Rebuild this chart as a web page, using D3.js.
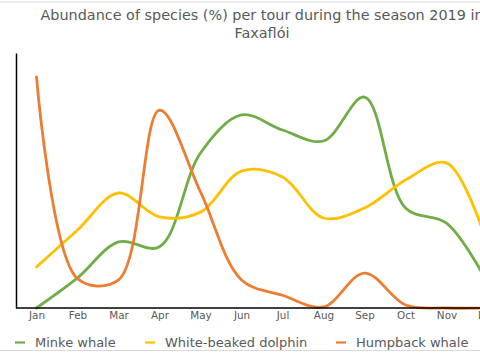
<!DOCTYPE html>
<html><head><meta charset="utf-8">
<script src="https://cdn.jsdelivr.net/npm/d3@7"></script>
<style>html,body{margin:0;padding:0;background:#fff;overflow:hidden}svg{display:block}</style>
</head><body>
<svg id="c" width="480" height="360"></svg>
<script>
const months = ["Jan","Feb","Mar","Apr","May","Jun","Jul","Aug","Sep","Oct","Nov","Dec"];
const minke = [0, 11.8, 25.9, 24, 60.8, 75.7, 69.8, 65.5, 82.7, 39.2, 33.3, 10];
const dolphin = [16.1, 30.6, 45.1, 35.7, 37.6, 53.7, 51.4, 35.3, 39.2, 50.2, 56.9, 25];
const humpback = [90.6, 11.5, 11, 77.6, 45.5, 11, 5, 0.4, 13.7, 1.2, 0, 0];
const seriesNames = ["Minke whale","White-beaked dolphin","Humpback whale"];
const colors = ["#70AD47","#FFC000","#ED7D31"];
const titleLines = ["Abundance of species (%) per tour during the season 2019 in","Faxaflói"];

(function(){
const svg = d3.select("#c");
const font = "'DejaVu Sans', sans-serif";
const pL = 16, pR = 508, pT = 53, pB = 308;

svg.append("line").attr("x1",0).attr("x2",480).attr("y1",2).attr("y2",2).attr("stroke","#d9d9d9").attr("stroke-width",1);
svg.append("line").attr("x1",0).attr("x2",480).attr("y1",350.5).attr("y2",350.5).attr("stroke","#d9d9d9").attr("stroke-width",1);

const x = d3.scalePoint().domain(months).range([pL, pR]).padding(0.5);
const y = d3.scaleLinear().domain([0,100]).range([pB, pT]);

svg.append("text").attr("x",262).attr("y",20).attr("text-anchor","middle")
  .attr("font-family",font).attr("font-size",14.4).attr("fill","#595959").text(titleLines[0]);
svg.append("text").attr("x",262).attr("y",38).attr("text-anchor","middle")
  .attr("font-family",font).attr("font-size",14.4).attr("fill","#595959").text(titleLines[1]);

const data = [minke, dolphin, humpback];
const line = d3.line().x((d,i)=>x(months[i])).y(d=>y(d)).curve(d3.curveCatmullRom.alpha(0.5));
data.forEach((s,k)=>{
  svg.append("path").attr("d", line(s)).attr("fill","none")
    .attr("stroke", colors[k]).attr("stroke-width",2.8).attr("stroke-linecap","round");
});

const xAxis = d3.axisBottom(x).tickSize(0).tickPadding(4);
const gx = svg.append("g").attr("transform",`translate(0,${pB})`).call(xAxis);
gx.select(".domain").attr("stroke","#000").attr("stroke-width",1.5).attr("d",`M${pL},0H${pR}`);
gx.selectAll("text").attr("font-family",font).attr("font-size",10.4).attr("fill","#595959");

const yAxis = d3.axisLeft(y).tickValues([]).tickSize(0);
const gy = svg.append("g").attr("transform",`translate(${pL},0)`).call(yAxis);
gy.select(".domain").attr("stroke","#000").attr("stroke-width",1.5);

const legX = [15, 145, 336];
seriesNames.forEach((n,k)=>{
  svg.append("line").attr("x1",legX[k]).attr("x2",legX[k]+10).attr("y1",342.5).attr("y2",342.5)
    .attr("stroke",colors[k]).attr("stroke-width",2.2);
  svg.append("text").attr("x",legX[k]+20).attr("y",347).attr("font-family",font)
    .attr("font-size",13).attr("fill","#595959").text(n);
});
})();
</script>
</body></html>
